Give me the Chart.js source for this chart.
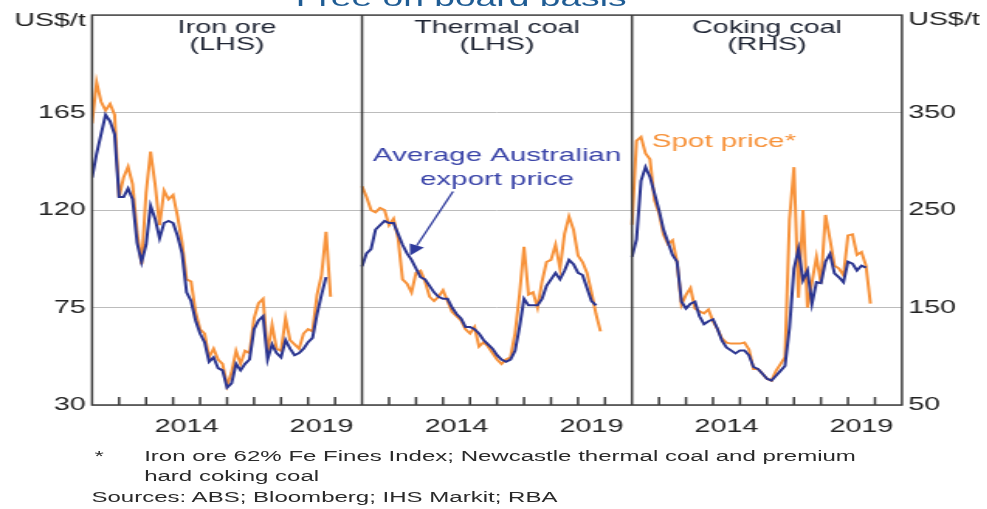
<!DOCTYPE html>
<html>
<head>
<meta charset="utf-8">
<title>Bulk commodity prices</title>
<script src="https://cdn.jsdelivr.net/npm/chart.js@4/dist/chart.umd.min.js"></script>
<style>
  html, body { margin: 0; padding: 0; background: #fff; overflow: hidden; }
  /* the chart is laid out narrow and widened as a whole */
  #stage { position: relative; width: 637px; height: 509px; transform: scaleX(1.55); transform-origin: 0 0;
           font-family: "Liberation Sans", Arial, sans-serif; }
  #chartBox { position: absolute; left: 0; top: 0; width: 637px; height: 509px; }
  .title { position: absolute; top: -16px; left: 0; width: 595px; text-align: center; font-size: 24px;
           color: #1f5c94; white-space: nowrap; }
  .note { position: absolute; font-size: 15.5px; line-height: 20px; color: #2a2a2a; white-space: nowrap; }
</style>
</head>
<body>
<div id="stage">
  <div class="title">Free on board basis</div>
  <div id="chartBox"><canvas id="prices"></canvas></div>
  <div class="note" style="left:61px; top:446px;">*</div>
  <div class="note" style="left:93px; top:446px;">Iron ore 62% Fe Fines Index; Newcastle thermal coal and premium<br>hard coking coal</div>
  <div class="note" style="left:59px; top:487px;">Sources: ABS; Bloomberg; IHS Markit; RBA</div>
</div>

<script>
// series start in Jan 2011, one value every two months
const startYear = 2011;
const stepMonths = 2;
const panelYears = 10;

const panels = ['Iron ore', 'Thermal coal', 'Coking coal'];
const panelSides = ['(LHS)', '(LHS)', '(RHS)'];
const yearLabels = [2014, 2019];
const leftTicks = [30, 75, 120, 165];
const rightTicks = [50, 150, 250, 350];

// US$/t
const ironExport = [135, 146, 155, 164, 161, 155, 126, 126, 130, 125, 105, 96, 104, 122, 116, 107, 114, 115, 114, 108,
  100, 82, 78, 69, 63, 59, 50, 52, 47, 46, 38, 40, 49, 46, 49, 51, 65, 69, 71, 51,
  58, 54, 52, 60, 56, 53, 54, 56, 59, 61, 72, 81, 89];
const ironSpot = [160, 179, 170, 166, 169, 164, 126, 135, 140, 132, 110, 95, 128, 147, 132, 113, 129, 125, 127, 117,
  105, 88, 87, 73, 65, 63, 52, 56, 51, 49, 39, 45, 55, 49, 55, 54, 70, 77, 79, 54,
  67, 56, 55, 70, 60, 58, 56, 63, 65, 64, 81, 90, 110, 80];
const thermalExport = [94, 100, 102, 111, 113, 115, 114, 114, 109, 104, 100, 97, 93, 89, 88, 85, 82, 80, 79, 79,
  75, 72, 70, 66, 66, 65, 63, 60, 58, 56, 53, 51, 50, 51, 55, 66, 79, 76, 76, 76,
  79, 85, 88, 91, 88, 92, 97, 95, 91, 90, 84, 78, 76];
const thermalSpot = [131, 126, 120, 119, 121, 120, 113, 116, 107, 88, 86, 82, 91, 92, 87, 80, 78, 80, 83, 78,
  73, 71, 69, 65, 63, 66, 57, 59, 57, 54, 51, 49, 51, 52, 63, 81, 103, 81, 82, 75,
  87, 96, 97, 104, 93, 109, 117, 111, 99, 96, 91, 82, 72, 64];
const cokingExport = [202, 220, 280, 294, 284, 267, 250, 230, 217, 204, 197, 156, 149, 154, 156, 141, 133, 136, 138, 128,
  116, 109, 106, 103, 106, 106, 101, 89, 87, 82, 77, 75, 80, 85, 90, 129, 190, 210, 178, 188,
  154, 176, 175, 197, 205, 185, 181, 176, 197, 195, 188, 193, 191];
const cokingSpot = [235, 321, 325, 308, 302, 260, 247, 225, 215, 219, 197, 153, 163, 170, 149, 146, 144, 148, 136, 128,
  118, 114, 113, 113, 113, 114, 107, 87, 87, 82, 77, 75, 85, 92, 99, 240, 294, 160, 250, 150,
  176, 202, 175, 245, 220, 193, 190, 183, 224, 225, 204, 207, 193, 154];

const NAVY = '#2b3590';
const ORANGE = '#f7923a';
const INK = '#222';
const FONT = '"Liberation Sans", Arial, sans-serif';

function toPoints(values, panel) {
  return values.map((v, i) => ({ x: panel * panelYears + i * stepMonths / 12, y: v }));
}

function line(data, color, axis) {
  return { data: data, borderColor: color, borderWidth: 2, pointRadius: 0, tension: 0, yAxisID: axis };
}

// blue series first so they sit on top of the spot prices
const datasets = [
  line(toPoints(ironExport, 0), NAVY, 'y'),
  line(toPoints(thermalExport, 1), NAVY, 'y'),
  line(toPoints(cokingExport, 2), NAVY, 'y2'),
  line(toPoints(ironSpot, 0), ORANGE, 'y'),
  line(toPoints(thermalSpot, 1), ORANGE, 'y'),
  line(toPoints(cokingSpot, 2), ORANGE, 'y2')
];

const decorations = {
  id: 'decorations',
  afterDatasetsDraw(chart) {
    const { ctx, chartArea: a, scales } = chart;
    const x = scales.x, y = scales.y, y2 = scales.y2;
    ctx.save();

    // frame, panel dividers and year ticks
    ctx.strokeStyle = '#3c3c3c';
    ctx.lineWidth = 1.5;
    ctx.strokeRect(a.left, a.top, a.right - a.left, a.bottom - a.top);
    ctx.beginPath();
    for (let p = 1; p < panels.length; p++) {
      const px = x.getPixelForValue(p * panelYears);
      ctx.moveTo(px, a.top);
      ctx.lineTo(px, a.bottom);
    }
    for (let p = 0; p < panels.length; p++) {
      for (let k = 1; k < panelYears; k++) {
        const px = x.getPixelForValue(p * panelYears + k);
        ctx.moveTo(px, a.bottom);
        ctx.lineTo(px, a.bottom - 8);
      }
    }
    ctx.stroke();

    // panel headings
    ctx.fillStyle = '#1e2433';
    ctx.textAlign = 'center';
    ctx.textBaseline = 'alphabetic';
    ctx.font = '18.5px ' + FONT;
    panels.forEach((name, p) => {
      const cx = x.getPixelForValue(p * panelYears + panelYears / 2);
      ctx.fillText(name, cx, 33);
      ctx.fillText(panelSides[p], cx, 50);
    });

    // units
    ctx.fillStyle = INK;
    ctx.textAlign = 'right';
    ctx.fillText('US$/t', a.left - 4, 26);
    ctx.textAlign = 'left';
    ctx.fillText('US$/t', a.right + 4, 25);

    // labels for the two series
    ctx.font = '19px ' + FONT;
    ctx.fillStyle = '#3a44a8';
    ctx.textAlign = 'center';
    const lx = x.getPixelForValue(15);
    ctx.fillText('Average Australian', lx, y.getPixelForValue(142.7));
    ctx.fillText('export price', lx, y.getPixelForValue(131.4));

    ctx.fillStyle = ORANGE;
    ctx.textAlign = 'left';
    ctx.fillText('Spot price*', x.getPixelForValue(20.74), y2.getPixelForValue(314.6));

    // pointer from the label to the thermal coal export price
    const x0 = x.getPixelForValue(13.37), y0 = y.getPixelForValue(128.6);
    const x1 = x.getPixelForValue(11.78), y1 = y.getPixelForValue(99);
    const ang = Math.atan2(y1 - y0, x1 - x0);
    const head = 11, half = 5;
    const bx = x1 - head * Math.cos(ang), by = y1 - head * Math.sin(ang);
    ctx.strokeStyle = '#2e3a9c';
    ctx.fillStyle = '#2e3a9c';
    ctx.lineWidth = 1.3;
    ctx.beginPath();
    ctx.moveTo(x0, y0);
    ctx.lineTo(bx, by);
    ctx.stroke();
    ctx.beginPath();
    ctx.moveTo(x1, y1);
    ctx.lineTo(bx + half * Math.sin(ang), by - half * Math.cos(ang));
    ctx.lineTo(bx - half * Math.sin(ang), by + half * Math.cos(ang));
    ctx.closePath();
    ctx.fill();

    ctx.restore();
  }
};

new Chart(document.getElementById('prices'), {
  type: 'line',
  data: { datasets: datasets },
  options: {
    responsive: true,
    maintainAspectRatio: false,
    animation: false,
    layout: { padding: { top: 10, left: 0, right: 0, bottom: 0 } },
    plugins: { legend: { display: false }, tooltip: { enabled: false } },
    scales: {
      x: {
        type: 'linear',
        min: 0,
        max: panelYears * panels.length,
        grid: { display: false },
        border: { display: false },
        afterBuildTicks: scale => {
          const ticks = [];
          for (let p = 0; p < panels.length; p++) {
            yearLabels.forEach(yr => ticks.push({ value: p * panelYears + (yr - startYear) + 0.5 }));
          }
          scale.ticks = ticks;
        },
        afterFit: scale => { scale.height = 104; },
        ticks: {
          autoSkip: false,
          maxRotation: 0,
          padding: 3,
          color: INK,
          font: { family: FONT, size: 18.5 },
          callback: v => String(startYear + Math.floor((v % panelYears) + 1e-6))
        }
      },
      y: {
        position: 'left',
        min: 30,
        max: 210,
        afterBuildTicks: scale => { scale.ticks = leftTicks.map(v => ({ value: v })); },
        afterFit: scale => { scale.width = 59.4; },
        grid: { color: '#bcbcbc', lineWidth: 1, drawTicks: false },
        border: { display: false },
        ticks: { padding: 4, color: INK, font: { family: FONT, size: 18.5 } }
      },
      y2: {
        position: 'right',
        min: 50,
        max: 450,
        afterBuildTicks: scale => { scale.ticks = rightTicks.map(v => ({ value: v })); },
        afterFit: scale => { scale.width = 55.1; },
        grid: { display: false, drawTicks: false },
        border: { display: false },
        ticks: { padding: 4, color: INK, font: { family: FONT, size: 18.5 } }
      }
    }
  },
  plugins: [decorations]
});
</script>
</body>
</html>
